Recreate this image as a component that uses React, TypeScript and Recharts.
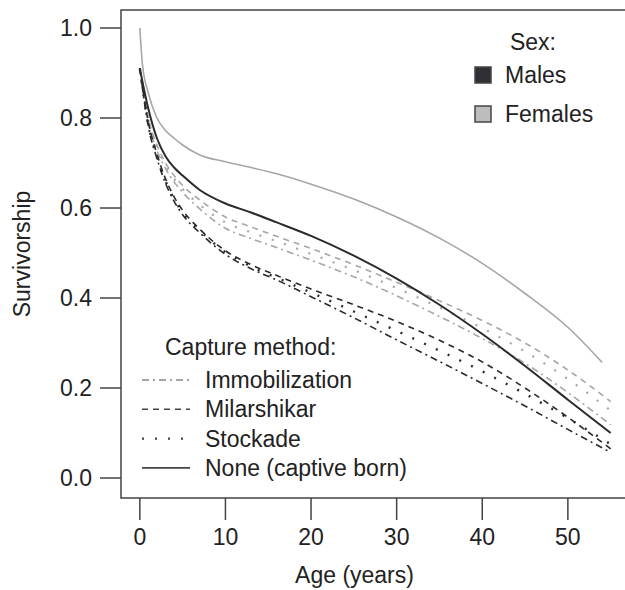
import { LineChart, Line, XAxis, YAxis, ReferenceArea } from "recharts";

const ages = [0, 0.3, 1, 2, 3, 4, 5, 7, 10, 13, 16, 20, 25, 30, 35, 40, 45, 50, 54, 55];

// females (grey)
const femaleImm = [0.91, null, 0.79, 0.728, 0.688, 0.658, 0.635, 0.598, 0.555, 0.532, 0.512, 0.484, 0.447, 0.405, 0.359, 0.31, 0.255, 0.19, null, 0.118];
const femaleMil = [0.91, null, 0.8, 0.74, 0.7, 0.672, 0.65, 0.618, 0.58, 0.558, 0.537, 0.51, 0.474, 0.435, 0.394, 0.35, 0.3, 0.24, null, 0.17];
const femaleSto = [0.91, null, 0.795, 0.735, 0.695, 0.665, 0.642, 0.607, 0.568, 0.546, 0.526, 0.498, 0.462, 0.422, 0.379, 0.333, 0.281, 0.22, null, 0.15];
const femaleNone = [1.0, 0.92, 0.855, 0.8, 0.772, 0.755, 0.74, 0.718, 0.703, 0.69, 0.676, 0.653, 0.62, 0.58, 0.533, 0.477, 0.41, 0.335, 0.257, null];

// males (black)
const maleImm = [0.91, null, 0.78, 0.71, 0.655, 0.615, 0.585, 0.545, 0.497, 0.465, 0.44, 0.403, 0.356, 0.307, 0.259, 0.21, 0.16, 0.108, null, 0.057];
const maleMil = [0.91, null, 0.79, 0.72, 0.665, 0.625, 0.595, 0.553, 0.505, 0.474, 0.45, 0.42, 0.385, 0.348, 0.306, 0.258, 0.2, 0.135, null, 0.065];
const maleSto = [0.91, null, 0.785, 0.715, 0.66, 0.62, 0.59, 0.55, 0.502, 0.47, 0.445, 0.412, 0.37, 0.327, 0.283, 0.237, 0.187, 0.133, null, 0.075];
const maleNone = [0.91, null, 0.82, 0.755, 0.715, 0.69, 0.672, 0.64, 0.61, 0.59, 0.568, 0.538, 0.494, 0.443, 0.385, 0.32, 0.249, 0.174, null, 0.1];

const xTicks = [0, 10, 20, 30, 40, 50];
const yTicks = [0, 0.2, 0.4, 0.6, 0.8, 1.0];
const methodLabels = ["Immobilization", "Milarshikar", "Stockade", "None (captive born)"];
const sexLabels = ["Males", "Females"];

const FONT = "'Liberation Sans', Arial, Helvetica, sans-serif";
const INK = "#222";
const MALE = "#2b2b2b";
const FEMALE = "#a6a6a6";
const DASHES = ["7 4 2 4", "6 5", "2 11", undefined];

const X_DOMAIN = [-2.2, 57.2];
const Y_DOMAIN = [-0.0444, 1.04];

const data = ages.map((age, i) => ({
  age,
  fImm: femaleImm[i],
  fMil: femaleMil[i],
  fSto: femaleSto[i],
  fNone: femaleNone[i],
  mImm: maleImm[i],
  mMil: maleMil[i],
  mSto: maleSto[i],
  mNone: maleNone[i],
}));

const series = [
  { key: "fImm", color: FEMALE, dash: DASHES[0], w: 1.6 },
  { key: "fMil", color: FEMALE, dash: DASHES[1], w: 1.6 },
  { key: "fSto", color: FEMALE, dash: DASHES[2], w: 2.2 },
  { key: "fNone", color: FEMALE, dash: DASHES[3], w: 1.6 },
  { key: "mImm", color: MALE, dash: DASHES[0], w: 1.6 },
  { key: "mMil", color: MALE, dash: DASHES[1], w: 1.6 },
  { key: "mSto", color: MALE, dash: DASHES[2], w: 2.4 },
  { key: "mNone", color: MALE, dash: DASHES[3], w: 2 },
];

const tickStyle = { fill: INK, fontSize: 23, fontFamily: FONT };

export default function App() {
  return (
    <div
      style={{
        position: "absolute",
        left: 0,
        top: 0,
        width: 625,
        height: 590,
        overflow: "hidden",
        background: "#fff",
      }}
    >
      <LineChart
        width={640}
        height={590}
        data={data}
        margin={{ top: 10, right: 10.5, bottom: 0, left: 0 }}
      >
        <XAxis
          type="number"
          dataKey="age"
          domain={X_DOMAIN}
          ticks={xTicks}
          interval={0}
          allowDataOverflow
          height={92}
          axisLine={false}
          tickSize={22}
          tickMargin={9}
          tickLine={{ stroke: "#444", strokeWidth: 1.5 }}
          tick={tickStyle}
        />
        <YAxis
          type="number"
          domain={Y_DOMAIN}
          ticks={yTicks}
          interval={0}
          allowDataOverflow
          width={121}
          axisLine={false}
          tickSize={21}
          tickMargin={8}
          tickLine={{ stroke: "#444", strokeWidth: 1.5 }}
          tick={tickStyle}
          tickFormatter={(v: number) => v.toFixed(1)}
        />
        <ReferenceArea
          x1={X_DOMAIN[0]}
          x2={X_DOMAIN[1]}
          y1={Y_DOMAIN[0]}
          y2={Y_DOMAIN[1]}
          fill="none"
          stroke="#444"
          strokeWidth={1.5}
          ifOverflow="visible"
        />
        {series.map((s) => (
          <Line
            key={s.key}
            dataKey={s.key}
            type="monotone"
            stroke={s.color}
            strokeWidth={s.w}
            strokeDasharray={s.dash}
            dot={false}
            activeDot={false}
            connectNulls
            isAnimationActive={false}
          />
        ))}
      </LineChart>

      <svg
        width={625}
        height={590}
        style={{ position: "absolute", left: 0, top: 0, pointerEvents: "none" }}
        fontFamily={FONT}
        fontSize={23}
        fill={INK}
      >
        <text transform="translate(30, 254) rotate(-90)" textAnchor="middle">
          Survivorship
        </text>
        <text x={354.5} y={583} textAnchor="middle">
          Age (years)
        </text>

        <text x={533} y={50} textAnchor="middle">
          Sex:
        </text>
        {sexLabels.map((s, i) => (
          <g key={s}>
            <rect
              x={475}
              y={67 + i * 39}
              width={16}
              height={16}
              fill={i === 0 ? "#2f3035" : "#bdbdbd"}
              stroke="#444"
              strokeWidth={1.5}
            />
            <text x={505} y={83 + i * 39}>
              {s}
            </text>
          </g>
        ))}

        <text x={165} y={355}>
          Capture method:
        </text>
        {methodLabels.map((m, i) => (
          <g key={m}>
            <line
              x1={142}
              x2={190}
              y1={380 + i * 29.3}
              y2={380 + i * 29.3}
              stroke={i === 0 ? "#888" : "#444"}
              strokeWidth={i === 2 ? 2.4 : 1.6}
              strokeDasharray={DASHES[i]}
            />
            <text x={205} y={388 + i * 29.3}>
              {m}
            </text>
          </g>
        ))}
      </svg>
    </div>
  );
}
